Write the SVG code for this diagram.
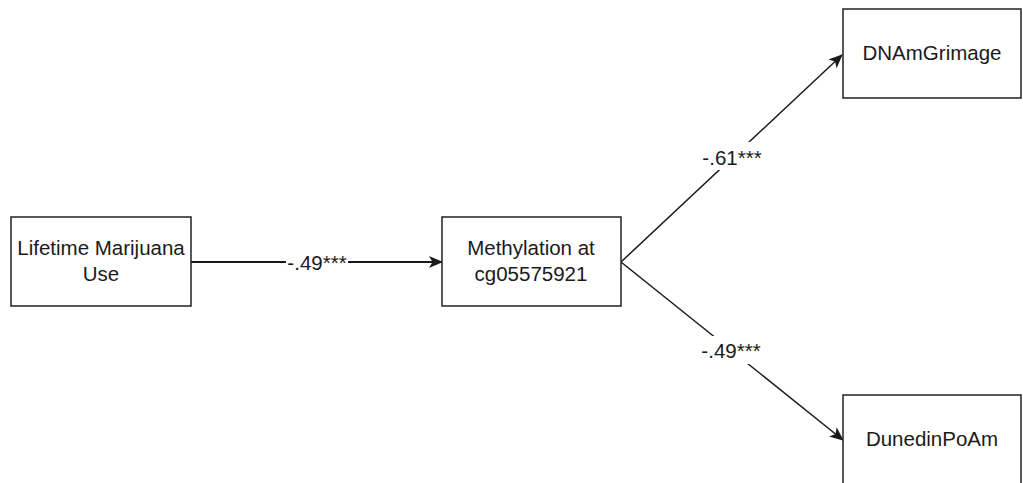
<svg xmlns="http://www.w3.org/2000/svg" width="1023" height="483" viewBox="0 0 1023 483">
<style>
.box{fill:#fff;stroke:#222;stroke-width:1.5}
.t{font-family:"Liberation Sans",Arial,sans-serif;font-size:20.5px;fill:#1a1a1a;text-anchor:middle}
.c{fill:none;stroke:#1a1a1a}
.bg{fill:#fff}
</style>
<defs>
<marker id="ah" markerUnits="userSpaceOnUse" markerWidth="14" markerHeight="12" refX="13" refY="6" orient="auto">
<path d="M0,0 L14,6 L0,12 L3.5,6 z" fill="#1a1a1a"/>
</marker>
</defs>
<rect width="1023" height="483" fill="#fff"/>
<g id="connectors">
<line class="c" x1="191" y1="262" x2="442" y2="262" stroke-width="2" marker-end="url(#ah)"/>
<line class="c" x1="621" y1="262" x2="842" y2="55" stroke-width="1.5" marker-end="url(#ah)"/>
<line class="c" x1="621" y1="262" x2="843" y2="440" stroke-width="1.5" marker-end="url(#ah)"/>
<rect class="bg" x="286" y="252" width="62" height="20"/>
<text class="t" x="317" y="270">-.49***</text>
<rect class="bg" x="700" y="142" width="64" height="28"/>
<text class="t" x="732" y="165">-.61***</text>
<rect class="bg" x="699" y="336" width="64" height="28"/>
<text class="t" x="731" y="358">-.49***</text>
</g>
<g id="lifetime">
<rect class="box" x="11" y="217" width="180" height="89"/>
<text class="t" x="101" y="255">Lifetime Marijuana</text>
<text class="t" x="101" y="281">Use</text>
</g>
<g id="methylation">
<rect class="box" x="442" y="217" width="179" height="89"/>
<text class="t" x="531" y="255">Methylation at</text>
<text class="t" x="531" y="281">cg05575921</text>
</g>
<g id="dnamgrimage">
<rect class="box" x="843" y="9" width="178" height="89"/>
<text class="t" x="932" y="60">DNAmGrimage</text>
</g>
<g id="dunedinpoam">
<rect class="box" x="843" y="395" width="178" height="95"/>
<text class="t" x="932" y="446">DunedinPoAm</text>
</g>
</svg>
